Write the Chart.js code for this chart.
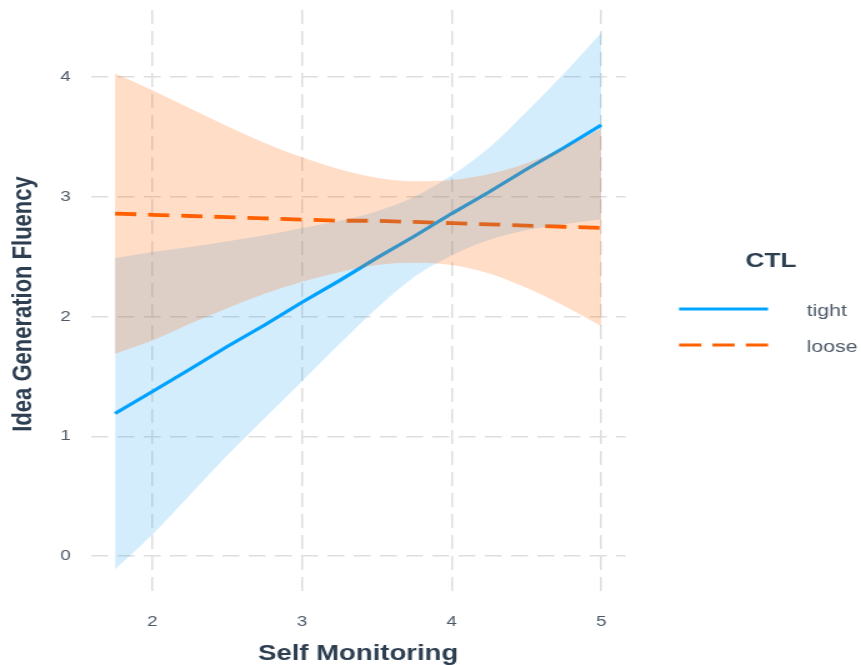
<!DOCTYPE html>
<html>
<head>
<meta charset="utf-8">
<script src="https://cdn.jsdelivr.net/npm/chart.js@4.4.1/dist/chart.umd.min.js"></script>
<style>
  html, body { margin: 0; padding: 0; background: #ffffff; overflow: hidden; }
  #wrap { width: 689px; height: 665px; transform: scaleX(1.24964); transform-origin: 0 0; }
  canvas { display: block; }
</style>
</head>
<body>
<div id="wrap"><canvas id="c" width="689" height="665"></canvas></div>
<script>
// ---- data ----
const selfMonitoring = [1.75, 2, 2.25, 2.5, 2.75, 3, 3.25, 3.5, 3.75, 4, 4.25, 4.5, 4.75, 5];

const tightFit   = [1.19, 1.375, 1.56, 1.75, 1.93, 2.12, 2.30, 2.49, 2.67, 2.86, 3.04, 3.23, 3.41, 3.60];
const tightUpper = [2.49, 2.54, 2.58, 2.63, 2.68, 2.74, 2.80, 2.88, 3.00, 3.18, 3.41, 3.71, 4.03, 4.37];
const tightLower = [-0.11, 0.18, 0.51, 0.84, 1.15, 1.46, 1.77, 2.07, 2.33, 2.51, 2.64, 2.72, 2.77, 2.81];

const looseFit   = [2.86, 2.85, 2.84, 2.83, 2.82, 2.81, 2.80, 2.80, 2.79, 2.78, 2.77, 2.76, 2.75, 2.74];
const looseUpper = [4.03, 3.89, 3.74, 3.59, 3.45, 3.33, 3.23, 3.16, 3.13, 3.14, 3.19, 3.28, 3.41, 3.57];
const looseLower = [1.69, 1.80, 1.94, 2.07, 2.19, 2.29, 2.37, 2.43, 2.45, 2.43, 2.36, 2.24, 2.09, 1.92];

const xTicks = [2, 3, 4, 5];
const yTicks = [0, 1, 2, 3, 4];
const seriesNames = ['tight', 'loose'];
const legendTitle = 'CTL';
const xTitle = 'Self Monitoring';
const yTitle = 'Idea Generation Fluency';

// ---- styling ----
const FONT = "'Liberation Sans', Arial, Helvetica, sans-serif";
const BLUE = '#00a5ff';
const ORANGE = '#ff6000';
const BLUE_BAND = 'rgba(0,150,245,0.17)';
const ORANGE_BAND = 'rgba(255,102,0,0.22)';
const GRID = '#dedede';
const TICK_COLOR = '#4d5a68';
const TITLE_COLOR = '#2c3e50';

const pts = (ys) => selfMonitoring.map((x, i) => ({ x: x, y: ys[i] }));
const NONE = 'rgba(0,0,0,0)';

const datasets = [
  { label: seriesNames[0], data: pts(tightFit), borderColor: BLUE, borderWidth: 3.2,
    pointRadius: 0, fill: false, order: 3, tension: 0 },
  { label: seriesNames[1], data: pts(looseFit), borderColor: ORANGE, borderWidth: 3.8,
    borderDash: [17, 9.5], pointRadius: 0, fill: false, order: 3, tension: 0 },
  { label: 'tight_upper', data: pts(tightUpper), borderColor: NONE, borderWidth: 0,
    pointRadius: 0, backgroundColor: BLUE_BAND, fill: '+1', order: 2, cubicInterpolationMode: 'monotone' },
  { label: 'tight_lower', data: pts(tightLower), borderColor: NONE, borderWidth: 0,
    pointRadius: 0, fill: false, order: 2, cubicInterpolationMode: 'monotone' },
  { label: 'loose_upper', data: pts(looseUpper), borderColor: NONE, borderWidth: 0,
    pointRadius: 0, backgroundColor: ORANGE_BAND, fill: '+1', order: 1, cubicInterpolationMode: 'monotone' },
  { label: 'loose_lower', data: pts(looseLower), borderColor: NONE, borderWidth: 0,
    pointRadius: 0, fill: false, order: 1, cubicInterpolationMode: 'monotone' }
];

const legendPlugin = {
  id: 'ggLegend',
  afterDraw(chart) {
    const ctx = chart.ctx;
    ctx.save();
    ctx.fillStyle = TITLE_COLOR;
    ctx.font = "bold 21px " + FONT;
    ctx.textAlign = 'center';
    ctx.textBaseline = 'middle';
    ctx.fillText(legendTitle, 617, 261);

    const keys = [
      { ds: chart.data.datasets[0], y: 309, dash: [] },
      { ds: chart.data.datasets[1], y: 345, dash: [17.8, 8.9] }
    ];
    keys.forEach((k, i) => {
      ctx.beginPath();
      ctx.strokeStyle = k.ds.borderColor;
      ctx.lineWidth = 3.2;
      ctx.setLineDash(k.dash);
      ctx.moveTo(543.4, k.y);
      ctx.lineTo(614.6, k.y);
      ctx.stroke();
      ctx.setLineDash([]);
      ctx.fillStyle = TICK_COLOR;
      ctx.font = "17px " + FONT;
      ctx.textAlign = 'left';
      ctx.textBaseline = 'alphabetic';
      ctx.fillText(seriesNames[i], 645.5, k.y + 7);
    });
    ctx.restore();
  }
};

new Chart(document.getElementById('c'), {
  type: 'line',
  data: { datasets: datasets },
  options: {
    responsive: false,
    devicePixelRatio: 1,
    animation: false,
    layout: { padding: { left: 0, top: 10, right: 188.4, bottom: 0 } },
    plugins: { legend: { display: false }, tooltip: { enabled: false } },
    scales: {
      x: {
        type: 'linear',
        min: 1.5875,
        max: 5.1625,
        afterBuildTicks: (s) => { s.ticks = xTicks.map(v => ({ value: v })); },
        afterFit: (s) => { s.height = 67; s.paddingLeft = 0; s.paddingRight = 0; },
        ticks: { color: TICK_COLOR, padding: 15, font: { family: FONT, size: 15 } },
        grid: { color: GRID, lineWidth: 1.5, drawTicks: false },
        border: { display: false, dash: [14, 7] },
        title: { display: true, text: xTitle, color: TITLE_COLOR,
                 font: { family: FONT, size: 22, weight: 'bold', lineHeight: 1 },
                 padding: { top: 0, bottom: 0 } }
      },
      y: {
        type: 'linear',
        min: -0.35,
        max: 4.56,
        afterBuildTicks: (s) => { s.ticks = yTicks.map(v => ({ value: v })); },
        afterFit: (s) => { s.width = 72.6; s.paddingTop = 0; s.paddingBottom = 0; },
        ticks: { color: TICK_COLOR, padding: 16, font: { family: FONT, size: 15 } },
        grid: { color: GRID, lineWidth: 1.6, drawTicks: false },
        border: { display: false, dash: [13.5, 7.5] },
        title: { display: true, text: yTitle, color: TITLE_COLOR,
                 font: { family: FONT, size: 22, weight: 'bold', lineHeight: 1 },
                 padding: { top: 8, bottom: 0 } }
      }
    }
  },
  plugins: [legendPlugin]
});
</script>
</body>
</html>
